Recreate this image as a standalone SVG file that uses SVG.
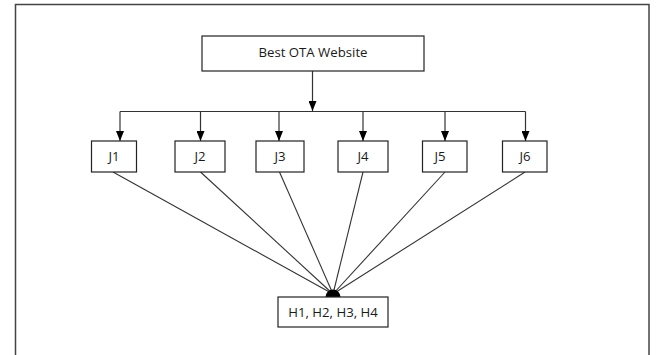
<svg xmlns="http://www.w3.org/2000/svg" width="662" height="355" viewBox="0 0 662 355">
<style>
.box{fill:#fff;stroke:#222;stroke-width:1.2}
.t{font-family:"Open Sans","Liberation Sans",sans-serif;font-size:13.2px;fill:#1a1a1a;text-anchor:middle;dominant-baseline:central}
.c{stroke:#333;stroke-width:1.1;fill:none}
.a{stroke:#333;stroke-width:1.2;fill:none}
</style>
<defs>
<marker id="ah" markerWidth="10" markerHeight="8" refX="10" refY="4" orient="auto" markerUnits="userSpaceOnUse" viewBox="0 0 10 8">
<path d="M0,0 L10,4 L0,8 Z" fill="#000"/>
</marker>
</defs>
<rect width="662" height="355" fill="#fff"/>
<g id="frame" fill="none" stroke="#444" stroke-width="1.5">
<path d="M15.5,355 V4.5 H649 V355"/>
</g>
<g id="connectors">
<path class="a" d="M312.5,71 V111" marker-end="url(#ah)"/>
<path class="a" d="M120,111.5 H525.5"/>
<path class="a" d="M120,111.5 V141" marker-end="url(#ah)"/>
<path class="a" d="M200.5,111.5 V141" marker-end="url(#ah)"/>
<path class="a" d="M279,111.5 V141" marker-end="url(#ah)"/>
<path class="a" d="M363,111.5 V141" marker-end="url(#ah)"/>
<path class="a" d="M445,111.5 V141" marker-end="url(#ah)"/>
<path class="a" d="M525.5,111.5 V141" marker-end="url(#ah)"/>
<path class="c" d="M113,172 L333,294"/>
<path class="c" d="M200.5,172 L333,294"/>
<path class="c" d="M279.5,172 L333,294"/>
<path class="c" d="M363,172 L333,294"/>
<path class="c" d="M445,172 L333,294"/>
<path class="c" d="M525,172 L333,294"/>
<path d="M325.5,297 A7.5,7.5 0 0 1 340.5,297 Z" fill="#000"/>
</g>
<g id="best-ota">
<rect class="box" x="202" y="36" width="222" height="35"/>
<text class="t" x="313" y="51.5">Best OTA Website</text>
</g>
<g id="j1"><rect class="box" x="91.5" y="141" width="45" height="31"/><text class="t" x="114" y="156">J1</text></g>
<g id="j2"><rect class="box" x="175" y="141" width="50" height="31"/><text class="t" x="200" y="156">J2</text></g>
<g id="j3"><rect class="box" x="256" y="141" width="48" height="31"/><text class="t" x="280" y="156">J3</text></g>
<g id="j4"><rect class="box" x="338" y="141" width="50" height="31"/><text class="t" x="363" y="156">J4</text></g>
<g id="j5"><rect class="box" x="422.5" y="141" width="44.5" height="31"/><text class="t" x="440" y="156">J5</text></g>
<g id="j6"><rect class="box" x="502.5" y="141" width="44.5" height="31"/><text class="t" x="525" y="156">J6</text></g>
<g id="h"><rect class="box" x="278" y="297" width="110" height="30"/><text class="t" x="333" y="312">H1, H2, H3, H4</text></g>
</svg>
